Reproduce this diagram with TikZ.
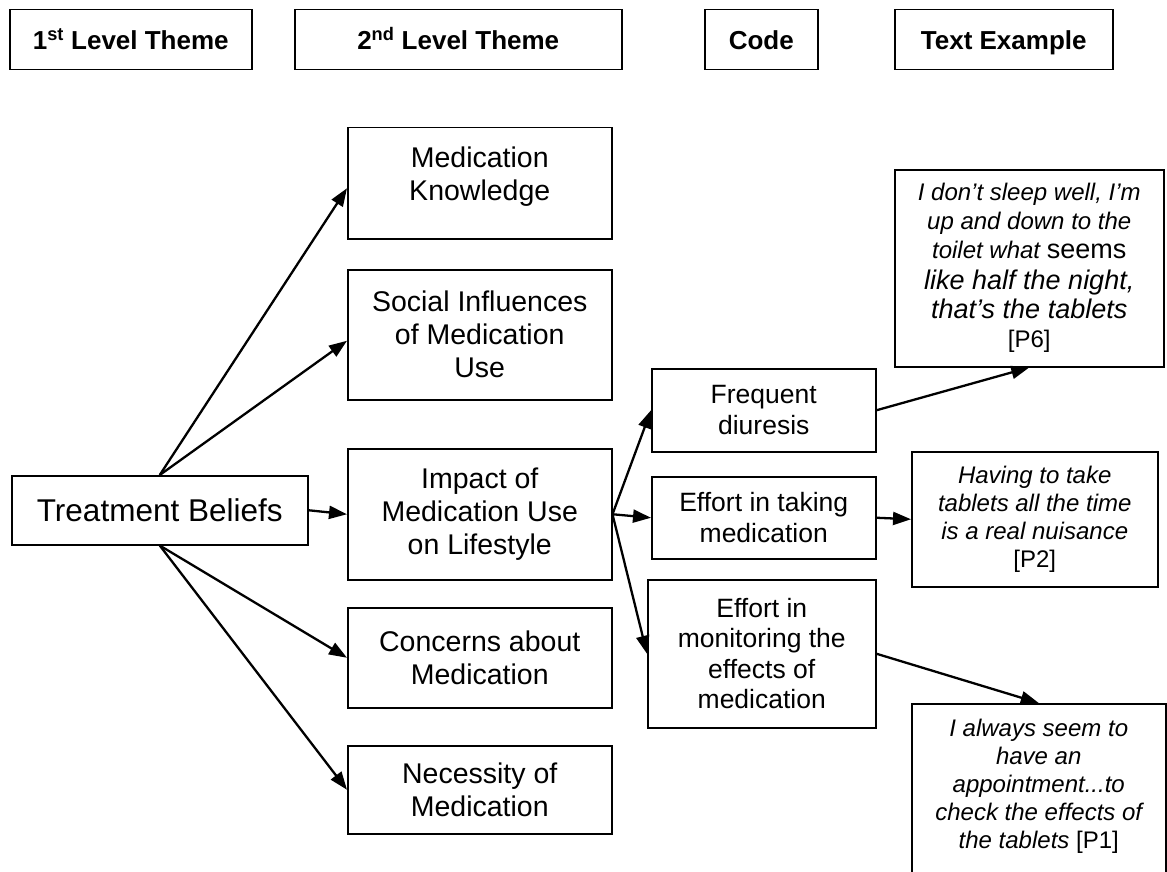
\documentclass[tikz,border=0pt]{standalone}
\usepackage{fontspec}
\setmainfont{Liberation Sans}
\usetikzlibrary{arrows.meta}
\newcommand{\bxc}[3]{\parbox[c][#2][c]{#1}{\centering #3\par}}
\newcommand{\bxt}[4]{\parbox[c][#2][t]{#1}{\centering\vspace*{#3}#4\par}}
\newcommand{\hstrut}{\rule[-5pt]{0pt}{30pt}}
\begin{document}
\begin{tikzpicture}[x=1pt,y=-1pt,
  tbox/.style={draw, line width=1.5pt, inner sep=0pt, anchor=north west},
  hfont/.style={font=\bfseries\fontsize{26}{30}\selectfont},
  tbfont/.style={font=\fontsize{31.5}{36}\selectfont},
  sfont/.style={font=\fontsize{28.5}{33}\selectfont},
  cfont/.style={font=\fontsize{26.5}{30.5}\selectfont},
  efont/.style={font=\fontsize{24}{28}\selectfont\itshape},
  arr/.style={line width=2.3pt, -{Triangle[length=18pt,width=13pt]}}]
\useasboundingbox (0,0) rectangle (1167,872);
\clip (0,0) rectangle (1167,872);
% headers
\node[tbox, hfont] (h1) at (9,9) {\bxc{242pt}{60pt}{\hstrut 1\textsuperscript{st} Level Theme}};
\node[tbox, hfont] (h2) at (294,9) {\bxc{327pt}{60pt}{\hstrut 2\textsuperscript{nd} Level Theme}};
\node[tbox, hfont] (h3) at (704,9) {\bxc{113pt}{60pt}{\hstrut Code}};
\node[tbox, hfont] (h4) at (894,9) {\bxc{218pt}{60pt}{\hstrut Text Example}};
% first level
\node[tbox, tbfont] (tb) at (11,475) {\bxc{296pt}{69pt}{Treatment Beliefs}};
% second level
\node[tbox, sfont] (mk) at (347,127) {\bxt{264pt}{111pt}{19pt}{Medication\\Knowledge}};
\node[tbox, sfont] (si) at (347,269) {\bxc{264pt}{130pt}{Social Influences\\of Medication\\Use}};
\node[tbox, sfont] (im) at (347,448) {\bxc{264pt}{131pt}{Impact of\\Medication Use\\on Lifestyle}};
\node[tbox, sfont] (co) at (347,607) {\bxc{264pt}{100pt}{Concerns about\\Medication}};
\node[tbox, sfont] (ne) at (347,745) {\bxc{264pt}{88pt}{Necessity of\\Medication}};
% codes
\node[tbox, cfont] (fd) at (651,368) {\bxc{224pt}{83pt}{Frequent\\diuresis}};
\node[tbox, cfont] (et) at (651,476) {\bxc{224pt}{82pt}{Effort in taking\\medication}};
\node[tbox, cfont] (em) at (647,579) {\bxc{228pt}{148pt}{Effort in\\monitoring the\\effects of\\medication}};
% text examples
\node[tbox, efont, font=\fontsize{24}{29}\selectfont\itshape] (p6) at (894,169) {\bxc{269pt}{197pt}{I don’t sleep well, I’m\\up and down to the\\toilet what {\upshape\fontsize{27}{31}\selectfont seems}\\{\fontsize{27}{31}\selectfont like half the night,\\that’s the tablets}\\{\upshape [P6]}}};
\node[tbox, efont] (p2) at (911,451) {\bxc{246pt}{135pt}{Having to take\\tablets all the time\\is a real nuisance\\{\upshape [P2]}}};
\node[tbox, efont] (p1) at (911,703) {\bxt{254pt}{200pt}{15pt}{I always seem to\\have an\\appointment...to\\check the effects of\\the tablets {\upshape [P1]}}};
% connectors
\draw[arr] (tb.north) -- ([yshift=-5pt]mk.west);
\draw[arr] (tb.north) -- ([yshift=-6pt]si.west);
\draw[arr] (tb.east) -- (im.west);
\draw[arr] (tb.south) -- (co.west);
\draw[arr] (tb.south) -- (ne.west);
\draw[arr] (im.east) -- (fd.west);
\draw[arr] (im.east) -- (et.west);
\draw[arr] (im.east) -- (em.west);
\draw[arr] (fd.east) -- (p6.south);
\draw[arr] (et.east) -- (p2.west);
\draw[arr] (em.east) -- (p1.north);
\end{tikzpicture}
\end{document}
